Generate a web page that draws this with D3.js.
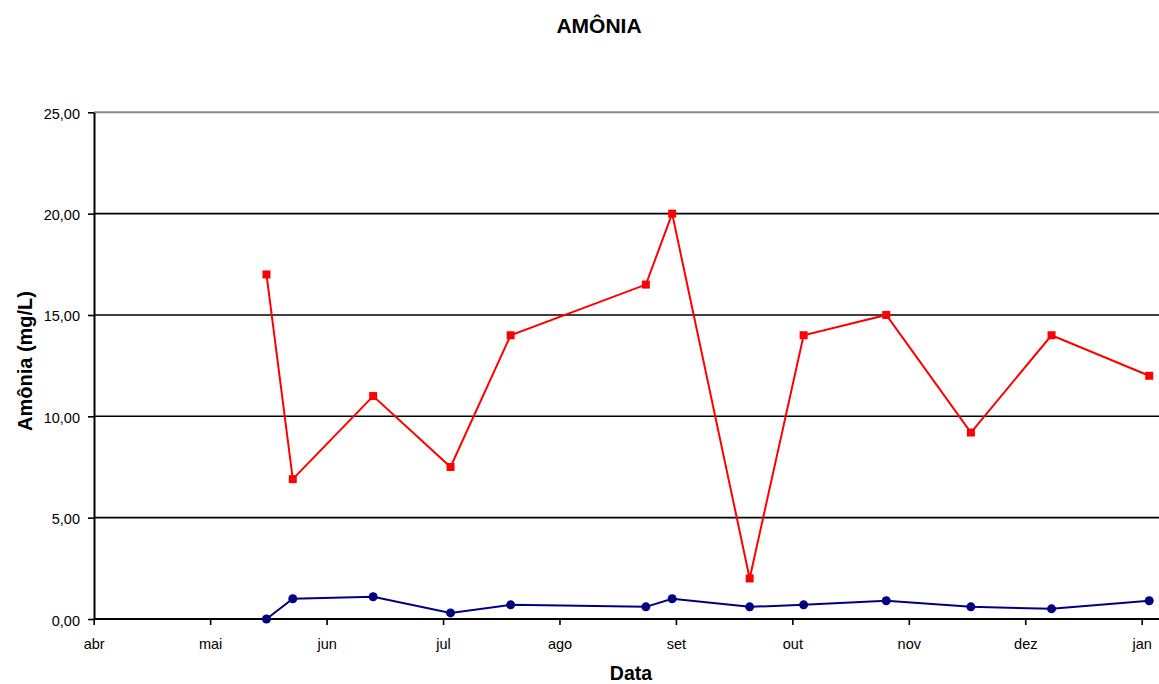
<!DOCTYPE html>
<html>
<head>
<meta charset="utf-8">
<script src="https://cdn.jsdelivr.net/npm/d3@7"></script>
<style>
  html, body { margin: 0; padding: 0; background: #ffffff; }
  svg { display: block; font-family: "Liberation Sans", Arial, sans-serif; }
</style>
</head>
<body>
<svg id="chart" width="1159" height="684"></svg>
<script>
// ---- data ----
const title = "AMÔNIA";
const yTitle = "Amônia (mg/L)";
const xTitle = "Data";
const monthLabels = ["abr","mai","jun","jul","ago","set","out","nov","dez","jan"];
const yTickValues = [0, 5, 10, 15, 20, 25];
const yTickLabels = ["0,00","5,00","10,00","15,00","20,00","25,00"];
const dates = ["2008-05-16","2008-05-23","2008-06-13","2008-07-03","2008-07-19","2008-08-24","2008-08-31","2008-09-20","2008-10-04","2008-10-26","2008-11-17","2008-12-08","2009-01-03"];
const redValues  = [17.0, 6.9, 11.0, 7.5, 14.0, 16.5, 20.0, 2.0, 14.0, 15.0, 9.2, 14.0, 12.0];
const blueValues = [0.0, 1.0, 1.1, 0.3, 0.7, 0.6, 1.0, 0.6, 0.7, 0.9, 0.6, 0.5, 0.9];

// month position: months since 1 April 2008 (each month equal width)
function monthPos(s) {
  const [yy, mm, dd] = s.split("-").map(Number);
  const dim = new Date(yy, mm, 0).getDate();
  return (yy - 2008) * 12 + (mm - 4) + (dd - 1) / dim;
}

const svg = d3.select("#chart");
const plotLeft = 94, plotRight = 1159;
const x = d3.scaleLinear().domain([0, 9]).range([93.7, 1141.7]);
const y = d3.scaleLinear().domain([0, 25]).range([619, 112.3]);

// gridlines
svg.append("g").selectAll("line.grid")
  .data(yTickValues.filter(v => v > 0))
  .join("line")
  .attr("x1", plotLeft).attr("x2", plotRight)
  .attr("y1", d => y(d)).attr("y2", d => y(d))
  .attr("stroke", d => d === 25 ? "#8a8a8a" : "#000")
  .attr("stroke-width", d => d === 25 ? 2 : 1.6);

// axes
const yAxis = svg.append("g")
  .attr("transform", `translate(${plotLeft},0)`)
  .call(d3.axisLeft(y).tickValues(yTickValues).tickSize(6).tickSizeOuter(0)
    .tickFormat((d, i) => yTickLabels[i]));
yAxis.select(".domain").attr("stroke", "#000").attr("stroke-width", 2);
yAxis.selectAll(".tick line").attr("stroke", "#000").attr("stroke-width", 1.6);
yAxis.selectAll(".tick text")
  .attr("x", -14).attr("dy", null).attr("y", 6)
  .style("font-size", "14.5px").style("font-family", "'Liberation Sans', Arial, sans-serif")
  .attr("fill", "#000");

const xAxis = svg.append("g")
  .attr("transform", `translate(0,${y(0)})`)
  .call(d3.axisBottom(x).tickValues(d3.range(0, 10)).tickSize(6).tickSizeOuter(0)
    .tickFormat(i => monthLabels[i]));
xAxis.select(".domain").attr("d", `M${plotLeft},0H${plotRight}`).attr("stroke", "#000").attr("stroke-width", 2);
xAxis.selectAll(".tick line").attr("stroke", "#000").attr("stroke-width", 1.6);
xAxis.selectAll(".tick text")
  .attr("y", 30).attr("dy", null)
  .style("font-size", "14.5px").style("font-family", "'Liberation Sans', Arial, sans-serif")
  .attr("fill", "#000");

// series
const xs = dates.map(monthPos);
const line = d3.line().x(d => x(d[0])).y(d => y(d[1]));
const redData = xs.map((v, i) => [v, redValues[i]]);
const blueData = xs.map((v, i) => [v, blueValues[i]]);

svg.append("path").datum(blueData).attr("d", line)
  .attr("fill", "none").attr("stroke", "#000080").attr("stroke-width", 2);
svg.append("g").selectAll("circle").data(blueData).join("circle")
  .attr("cx", d => x(d[0])).attr("cy", d => y(d[1])).attr("r", 4.5)
  .attr("fill", "#000080");

svg.append("path").datum(redData).attr("d", line)
  .attr("fill", "none").attr("stroke", "#ff0000").attr("stroke-width", 2);
svg.append("g").selectAll("rect").data(redData).join("rect")
  .attr("x", d => x(d[0]) - 4).attr("y", d => y(d[1]) - 4)
  .attr("width", 8).attr("height", 8)
  .attr("fill", "#ff0000");

// titles
svg.append("text").attr("x", 599).attr("y", 33).attr("text-anchor", "middle")
  .style("font-size", "21px").style("font-weight", "bold").text(title);
svg.append("text").attr("x", 631).attr("y", 680).attr("text-anchor", "middle")
  .style("font-size", "19.5px").style("font-weight", "bold").text(xTitle);
svg.append("text")
  .attr("transform", "translate(31.5,361) rotate(-90)")
  .attr("text-anchor", "middle")
  .style("font-size", "20px").style("font-weight", "bold").text(yTitle);
</script>
</body>
</html>
